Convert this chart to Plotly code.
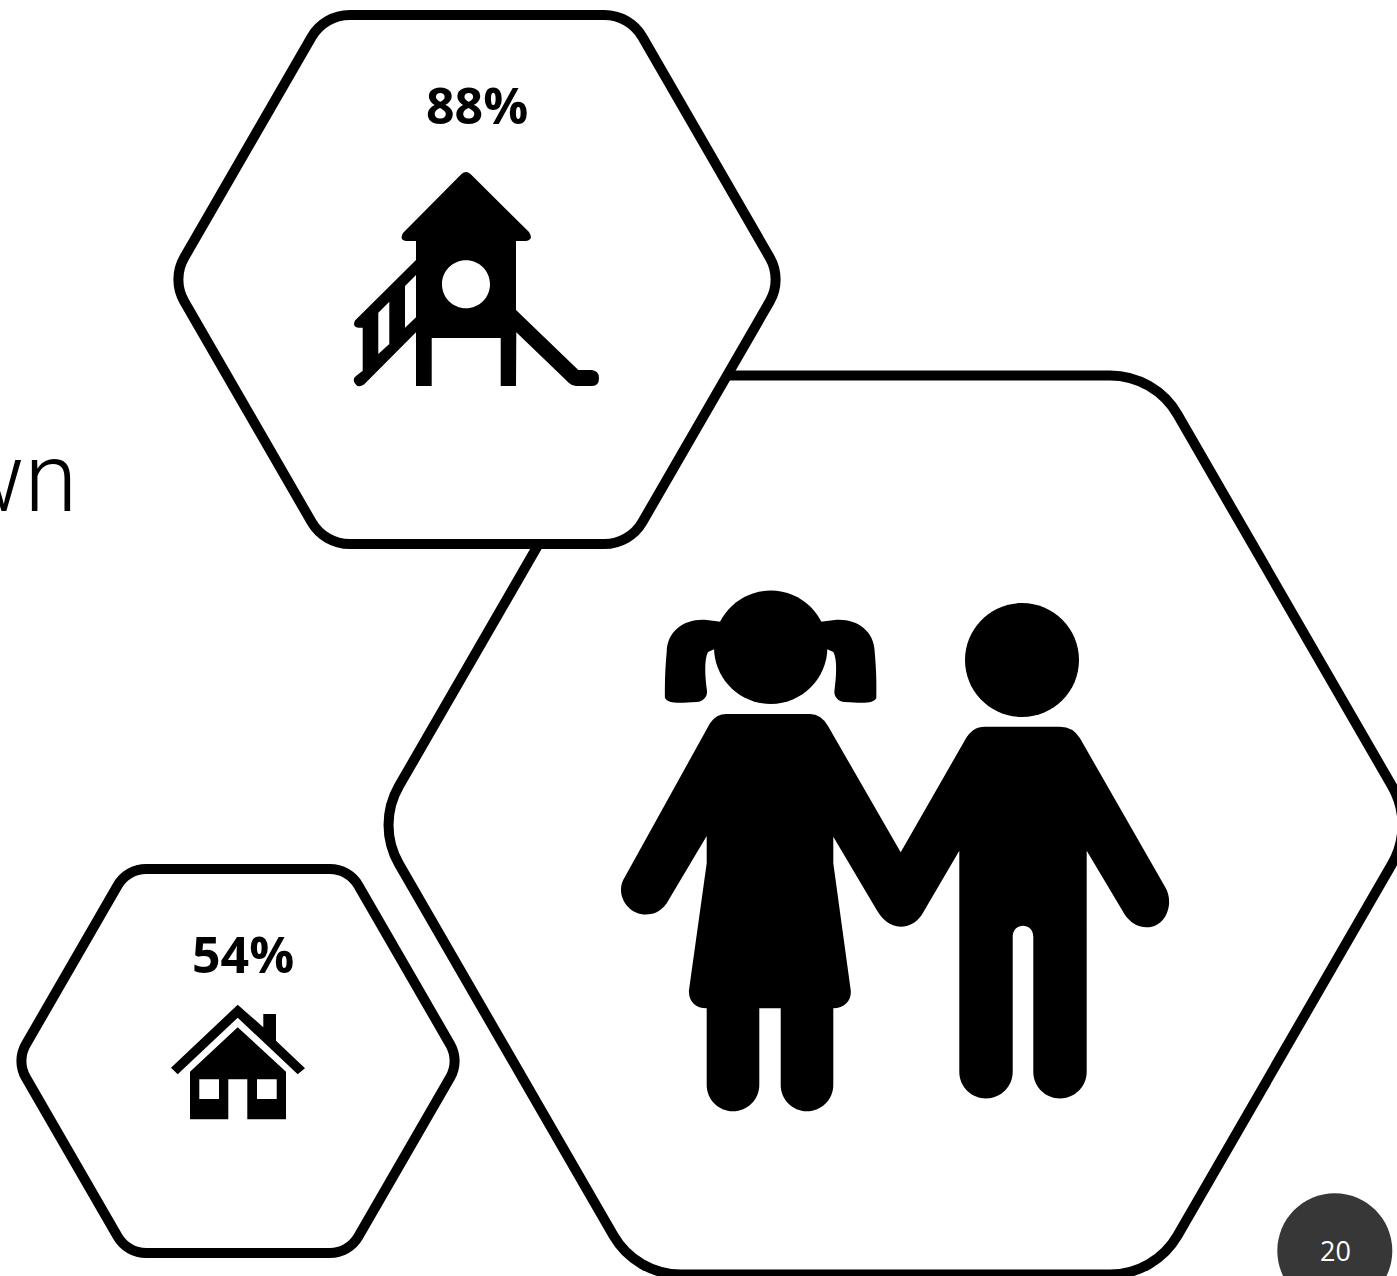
import math
import plotly.graph_objects as go

# ---- content -------------------------------------------------------------
PERCENT_VALUES = [88, 54]
PERCENT_X = [477, 243]
PERCENT_Y = [105, 954]
PAGE_NUMBER = "20"
HEADING_TAIL = "wn"

# Hexagon outlines, back to front: centre x, centre y, apothem, corner radius, stroke
HEX_CX = [895.5, 477, 238]
HEX_CY = [825, 279.5, 1061]
HEX_APOTHEM = [449.5, 264.5, 192]
HEX_RADIUS = [78, 44, 33]
HEX_STROKE = [10, 10, 10]

BLACK = "#000000"
DARK = "#373737"
K = 0.5523


def rounded_hexagon(cx, cy, apothem, radius):
    """Flat-topped hexagon path with rounded corners drawn as 60-degree cubic arcs."""
    big_r = apothem / math.cos(math.radians(30))
    verts = [(cx + big_r * math.cos(math.radians(a)), cy + big_r * math.sin(math.radians(a)))
             for a in (240, 300, 0, 60, 120, 180)]
    tangent = radius / math.tan(math.radians(60))
    handle = tangent - radius * 4 / 3 * math.tan(math.radians(15))
    parts = []
    n = len(verts)
    for i, (vx, vy) in enumerate(verts):
        px, py = verts[i - 1]
        nx, ny = verts[(i + 1) % n]
        side = math.hypot(nx - vx, ny - vy)
        ux, uy = (px - vx) / side, (py - vy) / side
        wx, wy = (nx - vx) / side, (ny - vy) / side
        parts.append(
            f"{'M' if i == 0 else 'L'}{vx + ux * tangent:.2f},{vy + uy * tangent:.2f} "
            f"C{vx + ux * handle:.2f},{vy + uy * handle:.2f} "
            f"{vx + wx * handle:.2f},{vy + wy * handle:.2f} "
            f"{vx + wx * tangent:.2f},{vy + wy * tangent:.2f}"
        )
    return " ".join(parts) + " Z"


def circle(cx, cy, r):
    c = K * r
    return (f"M{cx - r},{cy} C{cx - r},{cy - c} {cx - c},{cy - r} {cx},{cy - r} "
            f"C{cx + c},{cy - r} {cx + r},{cy - c} {cx + r},{cy} "
            f"C{cx + r},{cy + c} {cx + c},{cy + r} {cx},{cy + r} "
            f"C{cx - c},{cy + r} {cx - r},{cy + c} {cx - r},{cy} Z")


def foot(x1, x2, y):
    """Semicircular cap from (x1, y) to (x2, y), always bulging downward."""
    r = abs(x2 - x1) / 2
    mid = (x1 + x2) / 2
    c = K * r
    sign = 1 if x2 > x1 else -1
    return (f"C{x1},{y + c} {mid - sign * c},{y + r} {mid},{y + r} "
            f"C{mid + sign * c},{y + r} {x2},{y + c} {x2},{y} ")


def pigtail(mirror_about=None):
    pts = [(720.7, 621.7), (706.7, 620), (686, 618), (667, 630), (666.7, 652),
           (664.5, 676), (665, 693), (665, 698), (668, 703.5), (676.7, 703.5),
           (696.7, 702), (703, 701.5), (707.5, 697), (707, 691),
           (705, 676), (704, 660), (708, 652), (714, 646.7), (735, 640)]
    if mirror_about is not None:
        pts = [(2 * mirror_about - x, y) for x, y in pts]
    s = [f"M{pts[0][0]},{pts[0][1]} L{pts[1][0]},{pts[1][1]}"]
    for i in range(2, 17, 3):
        a, b, c = pts[i], pts[i + 1], pts[i + 2]
        s.append(f"C{a[0]},{a[1]} {b[0]},{b[1]} {c[0]},{c[1]}")
    s.append(f"L{pts[-1][0]},{pts[-1][1]} Z")
    return " ".join(s)


PLAY_TOWER = (
    "M461.5,174 Q466,170 470.5,174 L529,232 Q534,240 526,241 L516,241 L516,310 "
    "L578.3,370 L592,370 Q599,371 599,378 Q599,386 592,386 L576,386 Q572,386 569,383 "
    "L516.3,332.3 L516,386 L500.7,386 L500.7,338 L431.7,338 L431.7,386 L416,386 "
    "L416,332.3 L364,384.5 Q358,388.5 355,383.5 Q352,379 356,376 L362.7,370.7 L362.7,327.7 "
    "L358.3,327.7 Q352,327 355,320.5 L416,260 L416,241 L406,241 Q399,240 403,233 Z "
    "M378.3,312.7 L389.3,301.7 L389.3,344 L378.3,354 Z "
    "M405,286 L416,275 L416,317.3 L405,327.7 Z "
)
PLAY_TOWER += circle(466, 284.3, 24)

HOUSE_ROOF = ("M237.7,1004.7 L263.3,1027.3 L263.3,1014 L276,1014 L276,1040.7 L305,1068.3 "
              "L297.7,1074.3 L237.7,1017.7 L177.7,1074.3 L171,1067.7 Z")
HOUSE_BODY = ("M237.7,1027.3 L286,1071.7 L286,1119.3 L247.3,1119.3 L247.3,1079.3 L228.3,1079.3 "
              "L228.3,1119.3 L190,1119.3 L190,1071.7 Z "
              "M199.3,1079.3 L219,1079.3 L219,1099 L199.3,1099 Z "
              "M257,1079.3 L276.7,1079.3 L276.7,1099 L257,1099 Z")

CHILDREN = (
    "M726.7,714 L810,714 Q821,714 828,726 L900.7,852.3 L965,740 Q972,726.7 985,726.7 "
    "L1060,726.7 Q1073,726.7 1080,738.3 L1165,886.7 "
    "C1175,903 1166,927.3 1146.7,927.3 C1137,927.3 1130,922 1125,915 "
    "L1086.7,850.7 L1086.7,1071.7 " + foot(1086.7, 1033.3, 1071.7) +
    "L1033.3,936.7 C1033.3,922 1012.7,922 1012.7,936.7 L1012.7,1071.7 "
    + foot(1012.7, 959.3, 1071.7) +
    "L959.3,850.7 L921.7,915 C916,923 909,926.7 900.7,926.7 C890,926.7 882,919 876.7,910 "
    "L833.3,836.7 L833.3,863.3 L850.7,990 C852,1000 845,1008.3 833.3,1008.3 "
    "L833.3,1085 " + foot(833.3, 780.7, 1085) +
    "L780.7,1008.3 L759.3,1008.3 L759.3,1085 " + foot(759.3, 706.7, 1085) +
    "L706.7,1008.3 C695,1008.3 688,1000 689,990 L706.7,863.3 L706.7,836 L666.7,903.3 "
    "C660,913 652,914.5 646,914.5 C627,914.5 614,893 625,876.7 L710,723.3 Q716,714 726.7,714 Z"
)

fig = go.Figure()
shapes = []

for cx, cy, ap, rad, sw in zip(HEX_CX, HEX_CY, HEX_APOTHEM, HEX_RADIUS, HEX_STROKE):
    shapes.append(dict(type="path", path=rounded_hexagon(cx, cy, ap, rad),
                       fillcolor="#ffffff", line=dict(color=BLACK, width=sw), layer="above"))

for p in (PLAY_TOWER, HOUSE_ROOF, HOUSE_BODY, CHILDREN,
          circle(770.7, 647.3, 56.7), pigtail(), pigtail(770.7),
          circle(1022, 660, 57)):
    shapes.append(dict(type="path", path=p, fillcolor=BLACK, line=dict(width=0), layer="above"))

shapes.append(dict(type="path", path=circle(1334.8, 1250.8, 57.5), fillcolor=DARK,
                   line=dict(width=0), layer="above"))

annotations = [
    dict(x=x, y=y, text=f"<b>{v}%</b>", showarrow=False, xanchor="center", yanchor="middle",
         font=dict(family="Open Sans", size=50, color=BLACK))
    for v, x, y in zip(PERCENT_VALUES, PERCENT_X, PERCENT_Y)
]
annotations.append(dict(x=1335, y=1250, text=PAGE_NUMBER, showarrow=False, xanchor="center",
                        yanchor="middle", font=dict(family="Open Sans", size=27, color="#ffffff")))
annotations.append(dict(x=79, y=478, text=HEADING_TAIL, showarrow=False, xanchor="right",
                        yanchor="middle",
                        font=dict(family="Roboto", size=96, color=BLACK, weight=350)))

fig.update_layout(
    width=1397, height=1276, autosize=False,
    margin=dict(l=0, r=0, t=0, b=0),
    paper_bgcolor="#ffffff", plot_bgcolor="#ffffff",
    showlegend=False,
    xaxis=dict(range=[0, 1397], visible=False, fixedrange=True),
    yaxis=dict(range=[1276, 0], visible=False, fixedrange=True),
    shapes=shapes, annotations=annotations,
)
fig.write_html("out.html", config={"displayModeBar": False})
